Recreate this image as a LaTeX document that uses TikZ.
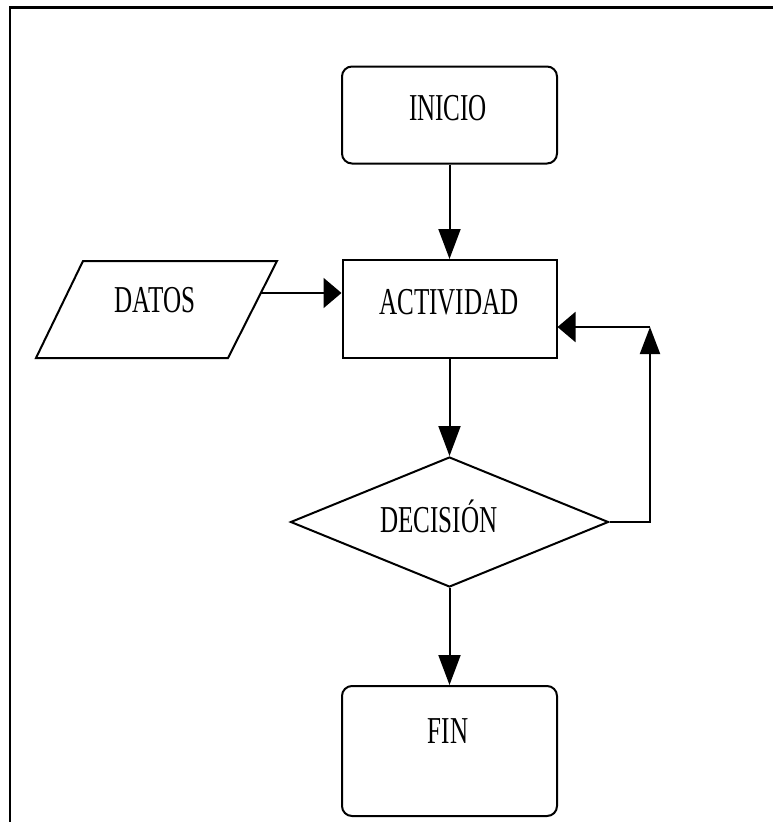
\documentclass[tikz,border=0pt]{standalone}
\usepackage{fontspec}
\usepackage{graphicx}
\setmainfont{Liberation Serif}
\usetikzlibrary{arrows.meta,shapes.geometric}

% condensed serif label text
\newcommand{\flowtext}[1]{\scalebox{0.66}[1]{#1}}

\begin{document}
\begin{tikzpicture}[x=1pt,y=-1pt,
  line width=2pt,
  frame/.style={line width=2.5pt},
  shapeline/.style={draw, line width=2pt, inner sep=0pt},
  terminal/.style={shapeline, rectangle, rounded corners=10pt},
  process/.style={shapeline, rectangle},
  decision/.style={shapeline, diamond},
  lbl/.style={anchor=base, inner sep=0pt, font=\fontsize{38}{40}\selectfont},
  vtip/.style={-{Triangle[length=30pt,width=22pt]}},
  uptip/.style={-{Triangle[length=27pt,width=20pt]}},
  htip/.style={-{Triangle[length=18pt,width=30pt]}}
]
\useasboundingbox (0,0) rectangle (773,822);

% page frame (top and left edges only)
\draw[frame] (10,822) -- (10,7.5) -- (773,7.5);

% shapes, all centred on one vertical axis
\node[terminal, minimum width=215pt, minimum height=97pt] (ini) at (449.5,115) {};
\node[process,  minimum width=214pt, minimum height=98pt] (act) at (449.5,309) {};
\node[decision, minimum width=318pt, minimum height=130pt] (dec) at (449.5,522) {};
\node[terminal, minimum width=215pt, minimum height=130pt] (fin) at (449.5,751) {};

% input parallelogram
\draw[line width=2pt] (83,261) -- (277,261) -- (228,358) -- (36,358) -- cycle;
\coordinate (datosR) at (260.5,293);

% labels
\node[lbl] (tIni) at (448,120) {\flowtext{INICIO}};
\node[lbl] (tAct) at (449,314) {\flowtext{ACTIVIDAD}};
\node[lbl] (tDat) at (155,312) {\flowtext{DATOS}};
\node[lbl] (tDec) at (439,532) {\flowtext{DECISIÓN}};
\node[lbl] (tFin) at (448,743) {\flowtext{FIN}};

% connectors
\draw[vtip] (ini.south) -- (act.north);
\draw[htip] (datosR) -- (datosR -| act.west);
\draw[vtip] (act.south) -- (dec.north);
\draw[vtip] (dec.south) -- (fin.north);

% loop back from the decision
\coordinate (loopTop) at (650,327);
\draw[uptip] (dec.east) -| (loopTop);
\draw[htip] (loopTop) -- (act.east |- loopTop);
\end{tikzpicture}
\end{document}
